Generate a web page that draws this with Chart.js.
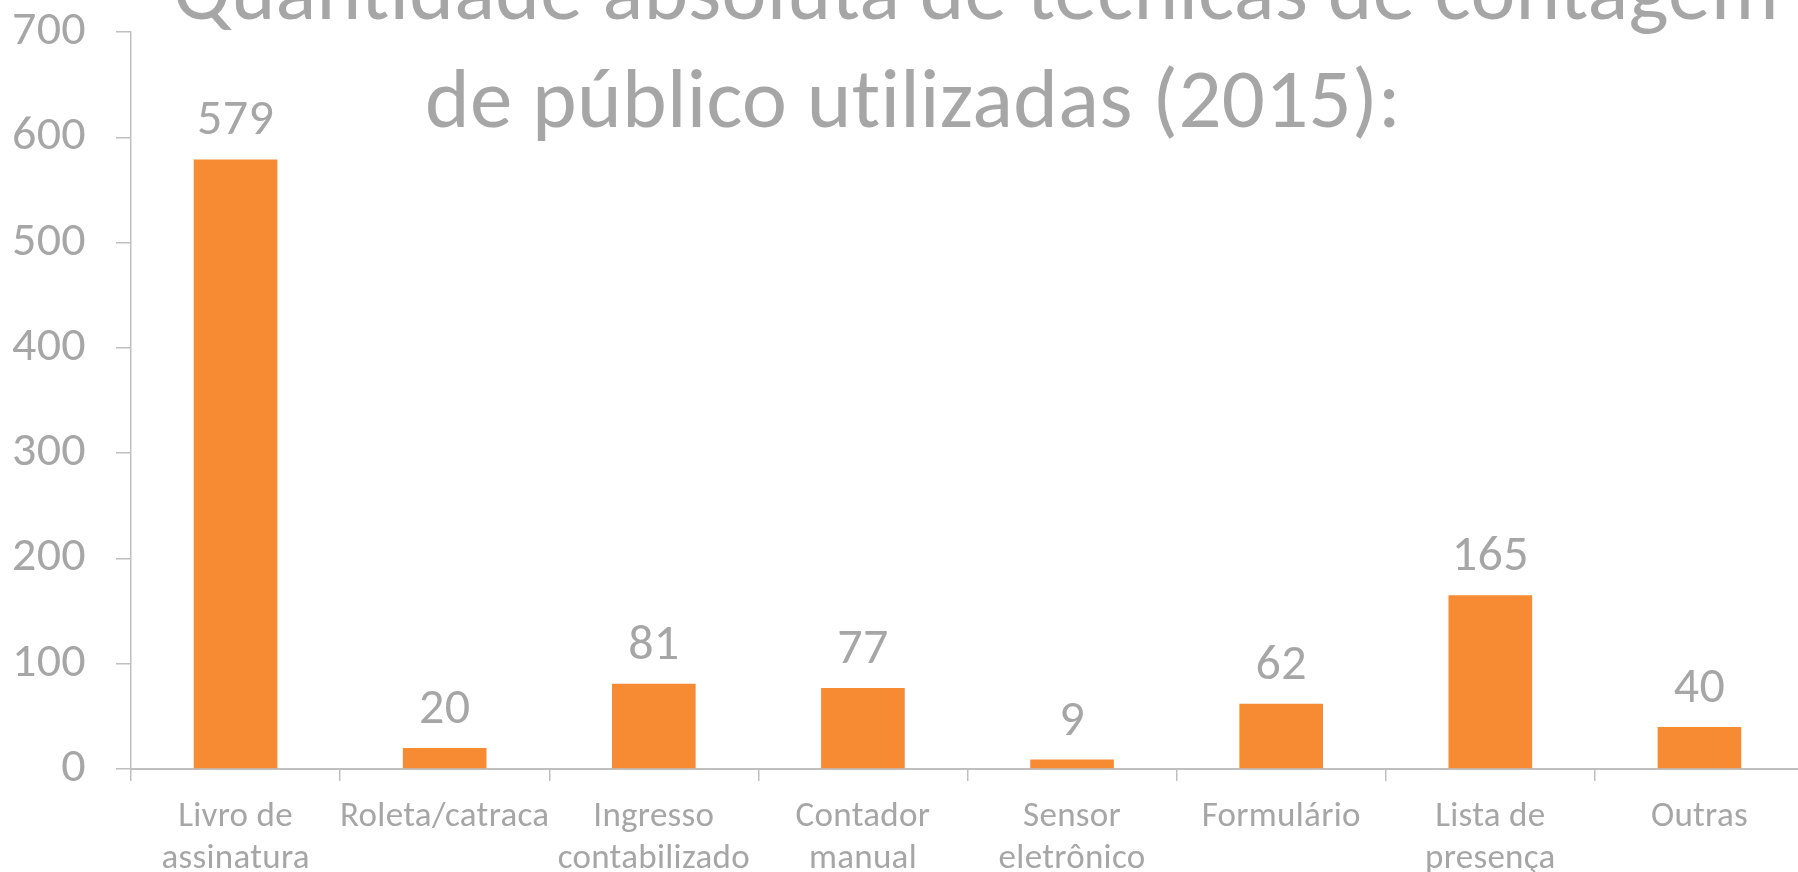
<!DOCTYPE html>
<html>
<head>
<meta charset="utf-8">
<script src="https://cdn.jsdelivr.net/npm/chart.js@4.4.1/dist/chart.umd.min.js"></script>
<style>
    html, body { margin: 0; padding: 0; background: #ffffff; overflow: hidden; }
    #wrap { position: relative; width: 1804px; height: 872px; }
</style>
</head>
<body>
<div id="wrap"><canvas id="techChart"></canvas></div>
<script>
// Data
const categories = [
    ['Livro de', 'assinatura'],
    'Roleta/catraca',
    ['Ingresso', 'contabilizado'],
    ['Contador', 'manual'],
    ['Sensor', 'eletrônico'],
    'Formulário',
    ['Lista de', 'presença'],
    'Outras'
];
const counts = [579, 20, 81, 77, 9, 62, 165, 40];
const yTicks = [0, 100, 200, 300, 400, 500, 600, 700];
const titleLines = ['Quantidade absoluta de técnicas de contagem', 'de público utilizadas (2015):'];

const FONT = "Carlito, Lato, 'Open Sans', sans-serif";
const GREY_TEXT = '#a6a6a6';
const GREY_LINE = '#bfbfbf';
const ORANGE = '#f68b33';

// tiny letter spacing keeps Lato from joining "ti" / "fi"
const noLigatures = {
    id: 'noLigatures',
    beforeDraw(chart) {
        chart.ctx.letterSpacing = '0.3px';
    }
};

// value labels above the bars
const valueLabels = {
    id: 'valueLabels',
    afterDatasetsDraw(chart) {
        const ctx = chart.ctx;
        const meta = chart.getDatasetMeta(0);
        ctx.save();
        ctx.font = '50px ' + FONT;
        ctx.fillStyle = GREY_TEXT;
        ctx.textAlign = 'center';
        ctx.textBaseline = 'alphabetic';
        meta.data.forEach((bar, i) => {
            ctx.fillText(String(counts[i]), bar.x, bar.y - 25);
        });
        ctx.restore();
    }
};

// two line title, each line centred on its own spot like the original
const bigTitle = {
    id: 'bigTitle',
    afterDraw(chart) {
        const ctx = chart.ctx;
        ctx.save();
        ctx.font = '85px ' + FONT;
        ctx.fillStyle = GREY_TEXT;
        ctx.textAlign = 'center';
        ctx.textBaseline = 'alphabetic';
        ctx.fillText(titleLines[0], 976, 19);
        ctx.fillText(titleLines[1], 913, 127);
        ctx.restore();
    }
};

const ctx = document.getElementById('techChart').getContext('2d');
const techChart = new Chart(ctx, {
    type: 'bar',
    data: {
        labels: categories,
        datasets: [{
            label: 'Quantidade',
            data: counts,
            backgroundColor: ORANGE,
            borderWidth: 0,
            barPercentage: 0.4,
            categoryPercentage: 1.0
        }]
    },
    options: {
        responsive: true,
        maintainAspectRatio: false,
        animation: false,
        layout: { padding: { top: 32, right: 0, left: 0, bottom: 0 } },
        plugins: {
            legend: { display: false },
            title: { display: false },
            tooltip: { enabled: false }
        },
        scales: {
            x: {
                grid: {
                    display: true,
                    offset: true,
                    drawOnChartArea: false,
                    drawTicks: true,
                    tickLength: 12,
                    color: GREY_LINE,
                    lineWidth: 1.5
                },
                border: { display: true, color: GREY_LINE, width: 2 },
                ticks: {
                    color: GREY_TEXT,
                    font: { family: FONT, size: 35, lineHeight: 1.2 },
                    padding: 15,
                    maxRotation: 0,
                    autoSkip: false
                },
                afterFit(scale) {
                    scale.height = 103;
                    scale.paddingLeft = 0;
                    scale.paddingRight = 0;
                }
            },
            y: {
                min: 0,
                max: 700,
                afterBuildTicks(scale) {
                    scale.ticks = yTicks.map(v => ({ value: v }));
                },
                grid: {
                    display: true,
                    drawOnChartArea: false,
                    drawTicks: true,
                    tickLength: 15,
                    color: GREY_LINE,
                    lineWidth: 1.5
                },
                border: { display: true, color: GREY_LINE, width: 1.5 },
                ticks: {
                    color: GREY_TEXT,
                    font: { family: FONT, size: 48 },
                    padding: 30
                },
                afterFit(scale) {
                    scale.width = 131;
                    scale.paddingTop = 0;
                    scale.paddingBottom = 0;
                }
            }
        }
    },
    plugins: [noLigatures, valueLabels, bigTitle]
});
</script>
</body>
</html>
